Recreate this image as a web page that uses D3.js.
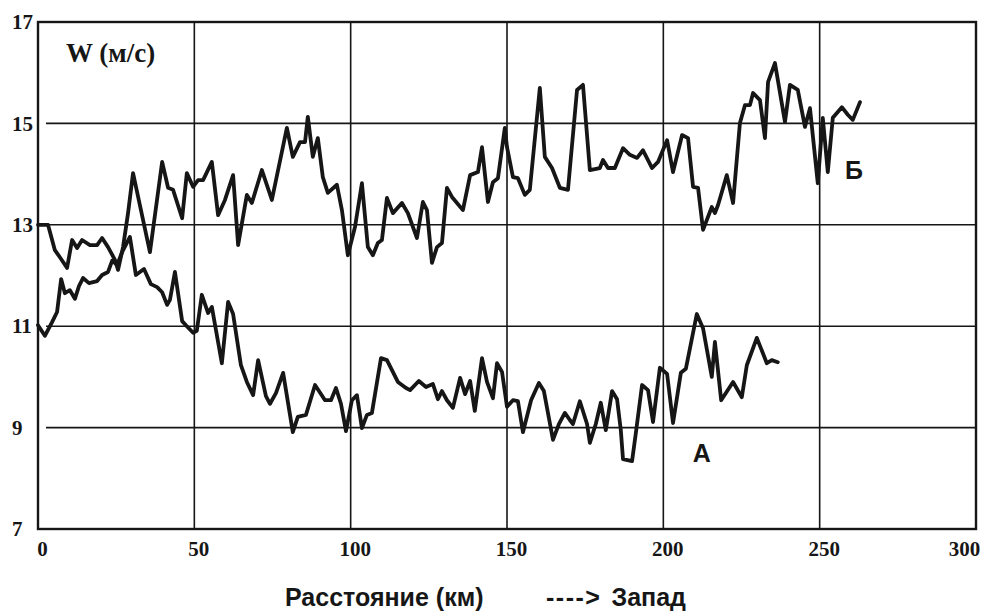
<!DOCTYPE html>
<html>
<head>
<meta charset="utf-8">
<script src="https://cdn.jsdelivr.net/npm/d3@7"></script>
<style>
  body { margin: 0; background: #fff; }
  svg { display: block; }
</style>
</head>
<body>
<div id="chart"></div>
<script>
// Wind speed along the track, [distance km, W m/s]
const seriesA = [[0,11.02],[2.2,10.81],[4.5,11.08],[6.1,11.28],[7.4,11.93],[8.6,11.65],[10.2,11.71],[11.8,11.54],[13.1,11.79],[14.4,11.95],[16.3,11.85],[18.9,11.89],[20.5,12.01],[22.4,12.07],[23.7,12.29],[25.3,12.21],[26.9,12.46],[29.4,12.76],[31.3,12.01],[33.9,12.13],[36.1,11.83],[38.1,11.77],[39.7,11.67],[41.3,11.42],[42.2,11.52],[43.8,12.07],[46.1,11.1],[47.6,11.0],[49.6,10.87],[50.8,10.91],[52.4,11.62],[54.4,11.26],[55.6,11.38],[58.8,10.27],[60.8,11.48],[62.4,11.24],[64.9,10.23],[66.8,9.9],[68.8,9.64],[70.4,10.33],[72.9,9.62],[74.2,9.47],[76.1,9.68],[78.4,10.08],[81.5,8.91],[83.1,9.21],[85.7,9.25],[88.6,9.84],[91.8,9.54],[93.7,9.54],[95.3,9.78],[96.9,9.47],[98.5,8.93],[100.4,9.54],[102.0,9.64],[103.6,8.99],[105.2,9.25],[106.8,9.29],[109.7,10.37],[111.6,10.33],[115.1,9.9],[117.7,9.78],[119.0,9.74],[121.8,9.92],[124.1,9.8],[126.3,9.86],[127.9,9.56],[129.2,9.72],[130.8,9.54],[132.7,9.39],[135.0,9.98],[136.6,9.66],[138.2,9.92],[139.7,9.33],[142.0,10.37],[143.6,9.9],[145.5,9.58],[146.8,10.27],[148.4,10.1],[150.0,9.41],[151.9,9.54],[153.5,9.52],[155.1,8.91],[157.7,9.54],[160.2,9.88],[161.8,9.72],[164.7,8.76],[166.6,9.07],[168.5,9.29],[170.1,9.15],[171.1,9.07],[173.3,9.52],[175.6,9.07],[176.5,8.7],[178.4,9.07],[180.0,9.49],[181.6,8.95],[183.6,9.72],[185.2,9.56],[186.4,8.95],[187.1,8.38],[190.0,8.34],[191.2,8.89],[193.2,9.84],[195.1,9.74],[196.7,9.11],[198.9,10.18],[201.2,10.06],[203.1,9.09],[205.6,10.08],[207.2,10.16],[210.7,11.24],[212.7,10.96],[215.5,10.0],[216.5,10.69],[218.5,9.54],[222.3,9.9],[225.1,9.6],[226.7,10.23],[229.9,10.77],[233.1,10.27],[234.7,10.33],[236.6,10.29]];

const seriesB = [[0,13.0],[3.2,13.0],[5.4,12.5],[7.0,12.36],[9.3,12.15],[10.9,12.7],[12.5,12.54],[14.1,12.7],[16.6,12.6],[18.9,12.6],[20.5,12.74],[22.4,12.56],[24.6,12.31],[25.6,12.11],[27.2,12.56],[28.8,13.23],[30.4,14.02],[35.8,12.46],[39.7,14.24],[41.6,13.73],[43.2,13.69],[46.1,13.13],[47.6,14.02],[49.6,13.75],[51.2,13.88],[52.8,13.88],[55.6,14.24],[57.6,13.19],[59.8,13.49],[62.4,13.98],[64.0,12.6],[66.8,13.59],[68.4,13.43],[71.6,14.08],[74.8,13.49],[79.6,14.91],[81.5,14.34],[83.8,14.63],[85.4,14.63],[86.3,15.13],[87.9,14.34],[89.5,14.71],[91.1,13.94],[92.7,13.63],[95.6,13.79],[97.2,13.29],[99.1,12.4],[101.4,12.96],[103.6,13.82],[105.5,12.56],[107.1,12.4],[108.7,12.64],[110.0,12.7],[111.6,13.53],[113.5,13.23],[116.4,13.43],[118.3,13.23],[121.2,12.74],[123.1,13.45],[124.4,13.29],[126.0,12.25],[127.6,12.56],[129.2,12.64],[130.8,13.73],[132.4,13.55],[135.9,13.29],[138.2,13.98],[140.7,14.04],[142.0,14.53],[143.9,13.45],[145.5,13.84],[147.1,13.92],[149.3,14.91],[150.0,14.53],[151.9,13.94],[153.5,13.92],[155.7,13.59],[157.3,13.69],[160.5,15.7],[162.1,14.34],[164.4,14.12],[166.9,13.73],[169.5,13.69],[172.4,15.66],[174.3,15.76],[176.5,14.08],[179.7,14.12],[180.7,14.28],[182.3,14.12],[184.5,14.12],[187.1,14.51],[189.3,14.38],[191.6,14.32],[193.5,14.47],[196.4,14.12],[198.3,14.24],[201.2,14.67],[203.1,14.04],[206.0,14.77],[207.9,14.71],[209.5,13.75],[211.1,13.73],[212.7,12.9],[215.5,13.35],[216.5,13.23],[217.5,13.39],[220.3,13.98],[222.3,13.43],[224.5,15.01],[226.1,15.36],[227.7,15.36],[228.7,15.6],[230.9,15.46],[232.5,14.71],[233.5,15.82],[235.7,16.19],[238.9,15.03],[240.5,15.76],[243.0,15.66],[245.3,14.93],[246.9,15.3],[249.4,13.82],[251.0,15.11],[252.6,14.04],[254.2,15.11],[257.1,15.32],[259.0,15.17],[260.6,15.07],[262.9,15.42]];

const xTicks = [0, 50, 100, 150, 200, 250, 300];
const yTicks = [7, 9, 11, 13, 15, 17];
const seriesLabels = [{name: 'А', x: 212.3, y: 8.33}, {name: 'Б', x: 261, y: 13.9}];

// Layout
const width = 984;
const height = 614;
const margin = {top: 22, right: 8, bottom: 85, left: 38};

const svg = d3.select('#chart')
    .append('svg')
    .attr('width', width)
    .attr('height', height);

const x = d3.scaleLinear().domain([0, 300]).range([margin.left, width - margin.right]);
const y = d3.scaleLinear().domain([7, 17]).range([height - margin.bottom, margin.top]);

const ink = '#161616';
const serif = '"Liberation Serif", "Times New Roman", serif';
const sans = '"Liberation Sans", Arial, sans-serif';

// Grid
svg.append('g')
    .selectAll('line')
    .data(xTicks.slice(1, -1))
    .join('line')
    .attr('x1', d => x(d)).attr('x2', d => x(d))
    .attr('y1', y(17)).attr('y2', y(7))
    .attr('stroke', ink).attr('stroke-width', 1.6);

svg.append('g')
    .selectAll('line')
    .data(yTicks.slice(1, -1))
    .join('line')
    .attr('x1', x(0) + 8).attr('x2', x(300))
    .attr('y1', d => y(d)).attr('y2', d => y(d))
    .attr('stroke', ink).attr('stroke-width', 1.6);

// Frame
svg.append('rect')
    .attr('x', x(0)).attr('y', y(17))
    .attr('width', x(300) - x(0)).attr('height', y(7) - y(17))
    .attr('fill', 'none')
    .attr('stroke', ink).attr('stroke-width', 2.4);

// Axes (labels only)
const xAxis = svg.append('g')
    .attr('transform', `translate(0,${y(7)})`)
    .call(d3.axisBottom(x).tickValues(xTicks).tickSize(0).tickFormat(d3.format('d')));
xAxis.select('.domain').remove();
xAxis.selectAll('text')
    .attr('y', 12)
    .attr('dx', (d, i) => i === xTicks.length - 1 ? -12 : 4)
    .style('font-family', serif)
    .style('font-size', '21px')
    .style('font-weight', 'bold')
    .attr('fill', ink);

const yAxis = svg.append('g')
    .attr('transform', `translate(${x(0)},0)`)
    .call(d3.axisLeft(y).tickValues(yTicks).tickSize(0).tickFormat(d3.format('d')));
yAxis.select('.domain').remove();
yAxis.selectAll('text')
    .attr('x', -26)
    .attr('text-anchor', 'start')
    .style('font-family', serif)
    .style('font-size', '21px')
    .style('font-weight', 'bold')
    .attr('fill', ink);

// Lines
const line = d3.line()
    .x(d => x(d[0]))
    .y(d => y(d[1]));

[seriesA, seriesB].forEach(s => {
    svg.append('path')
        .datum(s)
        .attr('d', line)
        .attr('fill', 'none')
        .attr('stroke', ink)
        .attr('stroke-width', 3.8)
        .attr('stroke-linejoin', 'round')
        .attr('stroke-linecap', 'round');
});

// Series labels
svg.selectAll('.series-label')
    .data(seriesLabels)
    .join('text')
    .attr('class', 'series-label')
    .attr('x', d => x(d.x))
    .attr('y', d => y(d.y))
    .attr('text-anchor', 'middle')
    .style('font-family', sans)
    .style('font-size', '25px')
    .style('font-weight', 'bold')
    .attr('fill', ink)
    .text(d => d.name);

// Unit label
svg.append('text')
    .attr('x', 66)
    .attr('y', 62)
    .style('font-family', serif)
    .style('font-size', '27px')
    .style('font-weight', 'bold')
    .attr('fill', ink)
    .text('W (м/с)');

// Bottom caption
const caption = svg.append('g')
    .style('font-family', sans)
    .style('font-size', '25px')
    .style('font-weight', 'bold')
    .attr('fill', ink);
caption.append('text').attr('x', 285).attr('y', 606).text('Расстояние (км)');
caption.append('text').attr('x', 546).attr('y', 606).style('letter-spacing', '1.5px').text('---->');
caption.append('text').attr('x', 686).attr('y', 606).attr('text-anchor', 'end').text('Запад');
</script>
</body>
</html>
